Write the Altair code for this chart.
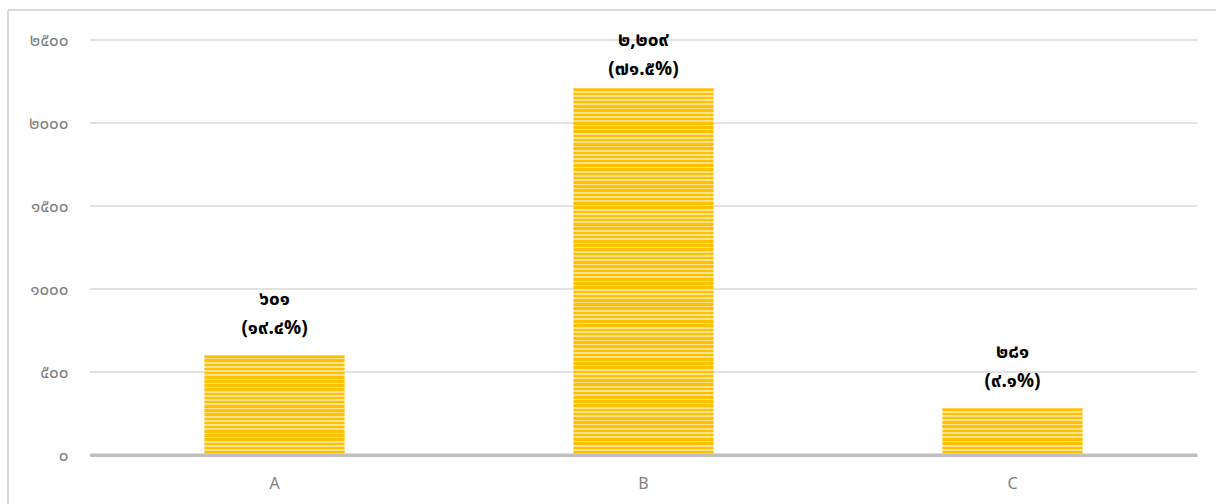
import altair as alt
import pandas as pd

categories = ["A", "B", "C"]
values = [601, 2209, 281]
count_labels = ["๖๐๑", "๒,๒๐๙", "๒๘๑"]
pct_labels = ["(๑๙.๔%)", "(๗๑.๕%)", "(๙.๑%)"]
y_ticks = [0, 500, 1000, 1500, 2000, 2500]
y_tick_labels = ["๐", "๕๐๐", "๑๐๐๐", "๑๕๐๐", "๒๐๐๐", "๒๕๐๐"]

df = pd.DataFrame({"cat": categories, "value": values,
                   "count": count_labels, "pct": pct_labels})

W, H = 1107, 415
YMAX = 2500
FONT = "Noto Sans Thai, DejaVu Sans, sans-serif"

x_enc = alt.X("cat:N", sort=categories,
              scale=alt.Scale(paddingInner=0.62, paddingOuter=0.31),
              axis=alt.Axis(title=None, labelAngle=0, ticks=False, domain=True,
                            domainColor="#bfbfbf", domainWidth=3,
                            labelColor="#7f7f7f", labelFontSize=16,
                            labelPadding=20, labelFont="Noto Sans"))
y_scale = alt.Scale(domain=[0, YMAX], nice=False)

labelexpr = "[" + ",".join("'" + s + "'" for s in y_tick_labels) + "][round(datum.value/500)]"

def stripe_gradient(value, period=4.2, dark="#FFC000", light="#FFE38F"):
    px = value / YMAX * H
    n = max(1, int(round(px / period)))
    stops = []
    for i in range(n):
        a = i / n
        m = (i + 0.6) / n
        b = (i + 1) / n
        stops += [alt.GradientStop(offset=a, color=dark),
                  alt.GradientStop(offset=m, color=dark),
                  alt.GradientStop(offset=m, color=light),
                  alt.GradientStop(offset=b, color=light)]
    return alt.LinearGradient(gradient="linear", stops=stops, x1=0, x2=0, y1=0, y2=1)

base = alt.Chart(df)

grid = alt.Chart(pd.DataFrame({"t": y_ticks})).mark_rule(color="#d9d9d9", strokeWidth=1.5).encode(
    y=alt.Y("t:Q", scale=y_scale,
            axis=alt.Axis(title=None, values=y_ticks, labelExpr=labelexpr, ticks=False,
                          domain=False, grid=False, labelColor="#7f7f7f",
                          labelFontSize=17, labelPadding=22, labelFont=FONT)),
    x=alt.value(0), x2=alt.value(W))

bars = []
for c, v in zip(categories, values):
    bars.append(base.transform_filter(alt.datum.cat == c).mark_bar(
        color=stripe_gradient(v)).encode(x=x_enc, y=alt.Y("value:Q", scale=y_scale)))

# label placement: above bar, pushed down to stay inside the plot area
lab = base.transform_calculate(
    y1=f"min(datum.value + 337, {YMAX})"
).transform_calculate(
    y2="datum.y1 - 175"
)
txt1 = lab.mark_text(fontWeight="bold", fontSize=19, color="#000000",
                     font=FONT, baseline="middle").encode(
    x=x_enc, y=alt.Y("y1:Q", scale=y_scale), text="count:N")
txt2 = lab.mark_text(fontWeight="bold", fontSize=19, color="#000000",
                     font=FONT, baseline="middle").encode(
    x=x_enc, y=alt.Y("y2:Q", scale=y_scale), text="pct:N")

zero = alt.Chart(pd.DataFrame({"t": [0]})).mark_rule(color="#bfbfbf", strokeWidth=3).encode(
    y=alt.Y("t:Q", scale=y_scale), x=alt.value(0), x2=alt.value(W))

border_top = alt.Chart(pd.DataFrame({"t": [0]})).mark_rule(color="#d9d9d9", strokeWidth=2).encode(
    x=alt.value(-82), x2=alt.value(W + 30), y=alt.value(-30))
border_left = alt.Chart(pd.DataFrame({"t": [0]})).mark_rule(color="#d9d9d9", strokeWidth=2).encode(
    x=alt.value(-82), y=alt.value(-30), y2=alt.value(H + 60))

chart = alt.layer(grid, *bars, zero, txt1, txt2, border_top, border_left).properties(
    width=W, height=H,
    autosize=alt.AutoSizeParams(type="none"),
    padding={"left": 90, "top": 40, "right": 19, "bottom": 49},
    background="white",
).configure_view(stroke=None)

chart.save("out.html", embed_options={"renderer": "svg", "actions": False})
